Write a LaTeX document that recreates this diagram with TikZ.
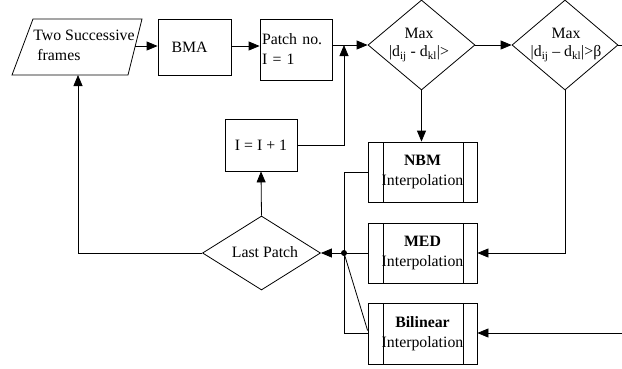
\documentclass[tikz,border=0pt]{standalone}
\usepackage{fontspec}
\setmainfont{Liberation Serif}
\usetikzlibrary{arrows.meta,shapes.geometric}
\begin{document}
\begin{tikzpicture}[x=1pt,y=-1pt,
  every node/.style={font=\fontsize{15.8}{20}\selectfont, text=black},
  line/.style={draw=black, line width=0.8pt},
  arr/.style={line, -{Triangle[length=11pt,width=9pt]}},
  box/.style={draw=black, line width=0.8pt, rectangle, inner sep=0pt},
  proc/.style={box, minimum width=109pt, minimum height=60pt, align=center,
    path picture={
      \draw[line width=0.8pt] ([xshift=15pt]path picture bounding box.north west) -- ([xshift=15pt]path picture bounding box.south west);
      \draw[line width=0.8pt] ([xshift=-14pt]path picture bounding box.north east) -- ([xshift=-14pt]path picture bounding box.south east);}},
  dia/.style={draw=black, diamond, line width=0.8pt, inner sep=0pt},
  dtext/.style={align=center, inner sep=0pt, font=\fontsize{15.8}{18}\selectfont}
]
\useasboundingbox (0,0) rectangle (622,368);

% input parallelogram
\draw[line] (33,19) -- (142,19) -- (128,75) -- (12,75) -- cycle;
\node[align=left, inner sep=0pt] (tsft) at (84,45) {Two Successive\\\hspace*{4pt}frames};
\coordinate (tsfR) at (135,46);
\coordinate (tsfB) at (78,75);

% boxes
\node[box, minimum width=73pt, minimum height=56pt, text width=46pt, align=left] (bma) at (194.5,47) {BMA};
\node[box, minimum width=72pt, minimum height=61pt, text width=68pt, align=left] (patch) at (296,49.5) {Patch no.\\I = 1};
\node[box, minimum width=72pt, minimum height=52pt] (inc) at (261,145) {I = I + 1};

% diamonds
\node[dia, minimum width=107pt, minimum height=90pt] (d1) at (421.5,45) {};
\node[dtext] (d1t) at (419,45) {Max\\|d\textsubscript{ij} - d\textsubscript{kl}|>};
\node[dia, minimum width=106pt, minimum height=90pt] (d2) at (565,45) {};
\node[dtext] (d2t) at (566,45) {Max\\|d\textsubscript{ij} -- d\textsubscript{kl}|>β};
\node[dia, minimum width=118pt, minimum height=74pt] (lp) at (261.5,253) {};
\node[inner sep=0pt] (lpt) at (265,252) {Last Patch};

% interpolation processes
\node[proc] (nbm) at (422.5,172) {\textbf{NBM}\\Interpolation};
\node[proc] (med) at (422.5,253) {\textbf{MED}\\Interpolation};
\node[proc, minimum height=61pt] (bil) at (422.5,333.5) {\textbf{Bilinear}\\Interpolation};

% junction and free ends
\coordinate (j) at (344,253);
\coordinate (stub) at (622,45);
\coordinate (bin) at (622,333);

% connectors
\draw[arr] (tsfR) -- (tsfR -| bma.west);
\draw[arr] (bma.east |- tsfR) -- (tsfR -| patch.west);
\draw[arr] (patch.east |- d1.west) -- (d1.west);
\draw[arr] (d1.east) -- (d2.west);
\draw[line] (d2.east) -- (stub);
\draw[arr] (d1.south) -- (d1.south |- nbm.north);
\draw[arr] (d2.south) |- (med.east);
\draw[arr] (bin) -- (bin -| bil.east);
\draw[arr] (med.west) -- (lp.east);
\draw[line] (nbm.west) -- (nbm.west -| j) -- (j |- bin) -- (bin -| bil.west);
\draw[line] (j) -- ([yshift=3pt]bil.west);
\fill (j) circle (3pt);
\draw[arr] (lp.north) -- (inc.south);
\draw[arr] (inc.east) -| (j |- d1.west);
\draw[arr] (lp.west) -| (tsfB);
\end{tikzpicture}
\end{document}
